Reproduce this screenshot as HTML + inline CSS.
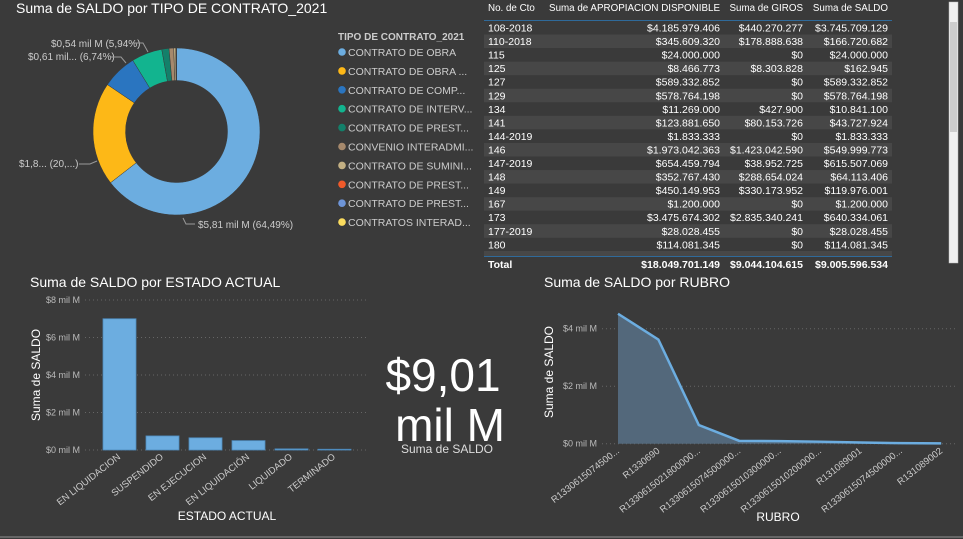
<!DOCTYPE html>
<html><head><meta charset="utf-8">
<style>
body{margin:0;background:#3a3a3a;width:963px;height:539px;overflow:hidden;font-family:"Liberation Sans",Arial,sans-serif;}
svg{position:absolute;left:0;top:0}
text{font-family:"Liberation Sans",Arial,sans-serif}
</style></head>
<body>
<svg id="s" width="963" height="539">
<rect x="0" y="0" width="963" height="539" fill="#3a3a3a"/>
<line x1="0" y1="537" x2="963" y2="537" stroke="#666" stroke-width="2"/>
<text x="16" y="13" fill="#fff" font-size="14">Suma de SALDO por TIPO DE CONTRATO_2021</text>
<g id="donut"></g>
<g id="legend"></g>
<g id="table"></g>
<text x="30" y="287" fill="#fff" font-size="14">Suma de SALDO por ESTADO ACTUAL</text>
<g id="bar"></g>
<text x="443" y="391" fill="#fff" font-size="46" text-anchor="middle">$9,01</text>
<text x="450" y="441" fill="#fff" font-size="46" text-anchor="middle">mil M</text>
<text x="447" y="453" fill="#ddd" font-size="12" text-anchor="middle">Suma de SALDO</text>
<text x="544" y="287" fill="#fff" font-size="14">Suma de SALDO por RUBRO</text>
<g id="line"></g>
</svg>
<script>
const NS="http://www.w3.org/2000/svg";
function mk(p,t,a,txt){const e=document.createElementNS(NS,t);for(const k in a)e.setAttribute(k,a[k]);if(txt!==undefined)e.textContent=txt;p.appendChild(e);return e;}

// Donut data
const donutLabels=["CONTRATO DE OBRA","CONTRATO DE OBRA ...","CONTRATO DE COMP...","CONTRATO DE INTERV...","CONTRATO DE PREST...","CONVENIO INTERADMI...","CONTRATO DE SUMINI...","CONTRATO DE PREST...","CONTRATO DE PREST...","CONTRATOS INTERAD..."];
const donutValues=[64.49,20.0,6.74,5.94,1.4,0.9,0.4,0.08,0.04,0.01];
const donutColors=["#6cade0","#fdb817","#2a75c0","#12b48f","#13806a","#a6896c","#c3b083","#f05a2a","#6e95d8","#fbdc5e"];

const dg=document.getElementById('donut');
const cx=176.5,cy=131.5,R=83.5,r=51;
const tot=donutValues.reduce((a,b)=>a+b,0);
let ang=0;
donutValues.forEach((v,i)=>{
  const a0=ang/tot*2*Math.PI, a1=(ang+v)/tot*2*Math.PI; ang+=v;
  const p=(a,rr)=>[cx+rr*Math.sin(a),cy-rr*Math.cos(a)];
  const [x0,y0]=p(a0,R),[x1,y1]=p(a1,R),[x2,y2]=p(a1,r),[x3,y3]=p(a0,r);
  const lg=(a1-a0)>Math.PI?1:0;
  const s=mk(dg,'path',{d:`M${x0},${y0}A${R},${R} 0 ${lg} 1 ${x1},${y1}L${x2},${y2}A${r},${r} 0 ${lg} 0 ${x3},${y3}Z`,fill:donutColors[i],stroke:'#3a3a3a','stroke-width':0.5});
  
  
});
const dl=[["$0,54 mil M (5,94%)",51,47,[[132,43],[143,43],[148,52]]],["$0,61 mil... (6,74%)",28,60,[[110,57],[121,57],[126,63]]],["$1,8... (20,...)",19,167,[[79,164],[90,164],[97,161]]],["$5,81 mil M (64,49%)",198,228,[[183,218],[186,224],[195,224]]]];
dl.forEach(d=>{const t=mk(dg,'text',{x:d[1],y:d[2],fill:'#ccc','font-size':10},d[0]);


mk(dg,'polyline',{points:d[3].map(p=>p.join(',')).join(' '),fill:'none',stroke:'#999','stroke-width':1});});

const lgG=document.getElementById('legend');
mk(lgG,'text',{x:338,y:40,fill:'#ccc','font-size':10,'font-weight':'bold'},'TIPO DE CONTRATO_2021');
donutLabels.forEach((l,i)=>{const y=52+i*18.9;
 const c=mk(lgG,'circle',{cx:342,cy:y,r:3.8,fill:donutColors[i]});
 
 
 const t=mk(lgG,'text',{x:348,y:y+4,fill:'#ccc','font-size':10.5},l);
 
 });

// Table
const tblIds=["108-2018","110-2018","115","125","127","129","134","141","144-2019","146","147-2019","148","149","167","173","177-2019","180"];
const tblAprop=["$4.185.979.406","$345.609.320","$24.000.000","$8.466.773","$589.332.852","$578.764.198","$11.269.000","$123.881.650","$1.833.333","$1.973.042.363","$654.459.794","$352.767.430","$450.149.953","$1.200.000","$3.475.674.302","$28.028.455","$114.081.345"];
const tblGiros=["$440.270.277","$178.888.638","$0","$8.303.828","$0","$0","$427.900","$80.153.726","$0","$1.423.042.590","$38.952.725","$288.654.024","$330.173.952","$0","$2.835.340.241","$0","$0"];
const tblSaldo=["$3.745.709.129","$166.720.682","$24.000.000","$162.945","$589.332.852","$578.764.198","$10.841.100","$43.727.924","$1.833.333","$549.999.773","$615.507.069","$64.113.406","$119.976.001","$1.200.000","$640.334.061","$28.028.455","$114.081.345"];
const tg=document.getElementById('table');
const hdr=[["No. de Cto",488,'start'],["Suma de APROPIACION DISPONIBLE",720,'end'],["Suma de GIROS",803,'end'],["Suma de SALDO",888,'end']];
hdr.forEach(h=>{const t=mk(tg,'text',{x:h[1],y:11,fill:'#fff','font-size':9.8,'text-anchor':h[2]},h[0]);

});
mk(tg,'line',{x1:484,y1:20.5,x2:892,y2:20.5,stroke:'#2f6a9a','stroke-width':1});
tblIds.forEach((id,i)=>{const y=21+i*13.55;
 if(i%2==1)mk(tg,'rect',{x:484,y:y,width:408,height:13.5,fill:'#474747'});
 const ty=y+10.5;
 mk(tg,'text',{x:488,y:ty,fill:'#fff','font-size':10.5},id);
 mk(tg,'text',{x:720,y:ty,fill:'#fff','font-size':10.5,'text-anchor':'end'},tblAprop[i]);
 mk(tg,'text',{x:803,y:ty,fill:'#fff','font-size':10.5,'text-anchor':'end'},tblGiros[i]);
 mk(tg,'text',{x:888,y:ty,fill:'#fff','font-size':10.5,'text-anchor':'end'},tblSaldo[i]);});
mk(tg,'rect',{x:484,y:251,width:408,height:5,fill:'#474747'});
mk(tg,'rect',{x:484,y:256,width:408,height:14,fill:'#3a3a3a'});
mk(tg,'line',{x1:484,y1:256.5,x2:892,y2:256.5,stroke:'#2f6a9a','stroke-width':1});
[["Total",488,'start'],["$18.049.701.149",720,'end'],["$9.044.104.615",803,'end'],["$9.005.596.534",888,'end']].forEach(h=>{
 const t=mk(tg,'text',{x:h[1],y:268,fill:'#fff','font-size':10.5,'font-weight':'bold','text-anchor':h[2]},h[0]);
 
 });
const sb=mk(tg,'rect',{x:949,y:2,width:9,height:261,fill:'#f0f0f0',stroke:'#bbb','stroke-width':0.5});


mk(tg,'rect',{x:950,y:22,width:7,height:110,fill:'#cdcdcd'});

// Bar chart
const barCats=["EN LIQUIDACION","SUSPENDIDO","EN EJECUCION","EN LIQUIDACIÓN","LIQUIDADO","TERMINADO"];
const barVals=[7.0,0.75,0.65,0.5,0.06,0.04];
const barTicks=[0,2,4,6,8];
const bg=document.getElementById('bar');
const bY=v=>450-v*18.75, bX=i=>103+i*43;
barTicks.forEach(t=>{mk(bg,'line',{x1:85,y1:bY(t),x2:366,y2:bY(t),stroke:'#666','stroke-dasharray':'1,3'});
 mk(bg,'text',{x:80,y:bY(t)+3,fill:'#bbb','font-size':9,'text-anchor':'end'},'$'+t+' mil M');});
barVals.forEach((v,i)=>{const b=mk(bg,'rect',{x:bX(i),y:bY(v),width:33,height:450-bY(v),fill:'#6cade0',stroke:'#4e8bbd','stroke-width':0.8});
 
 
 const cxp=bX(i)+18;
 mk(bg,'text',{x:cxp,y:458,fill:'#ccc','font-size':9.5,'text-anchor':'end',transform:`rotate(-38 ${cxp} 458)`},barCats[i]);});
mk(bg,'text',{x:40,y:375,fill:'#fff','font-size':12,'text-anchor':'middle',transform:'rotate(-90 40 375)'},'Suma de SALDO');
mk(bg,'text',{x:227,y:520,fill:'#fff','font-size':12,'text-anchor':'middle'},'ESTADO ACTUAL');

// Area chart
const rubCats=["R1330615074500...","R1330690","R1330615021800000...","R1330615074500000...","R1330615010300000...","R1330615010200000...","R131089001","R1330615074500000...","R131089002"];
const rubVals=[4.52,3.62,0.65,0.1,0.09,0.07,0.04,0.02,0.01];
const rubTicks=[0,2,4];
const lg2=document.getElementById('line');
const lY=v=>443.7-v*28.75, lX=i=>618+i*40.4;
rubTicks.forEach(t=>{mk(lg2,'line',{x1:602,y1:lY(t),x2:955,y2:lY(t),stroke:'#666','stroke-dasharray':'1,3'});
 mk(lg2,'text',{x:597,y:lY(t)+3,fill:'#bbb','font-size':9,'text-anchor':'end'},'$'+t+' mil M');});
let pts=rubVals.map((v,i)=>lX(i)+','+lY(v)).join(' ');
mk(lg2,'polygon',{points:`${lX(0)},${lY(0)} ${pts} ${lX(rubVals.length-1)},${lY(0)}`,fill:'#53687b'});
const pl=mk(lg2,'polyline',{points:pts,fill:'none',stroke:'#6cade0','stroke-width':2.5});


rubCats.forEach((c,i)=>{const x=lX(i)+2;
 mk(lg2,'text',{x:x,y:452,fill:'#ccc','font-size':9.5,'text-anchor':'end',transform:`rotate(-38 ${x} 452)`},c);});
mk(lg2,'text',{x:553,y:372,fill:'#fff','font-size':12,'text-anchor':'middle',transform:'rotate(-90 553 372)'},'Suma de SALDO');
mk(lg2,'text',{x:778,y:521,fill:'#fff','font-size':12,'text-anchor':'middle'},'RUBRO');
</script>
</body></html>
